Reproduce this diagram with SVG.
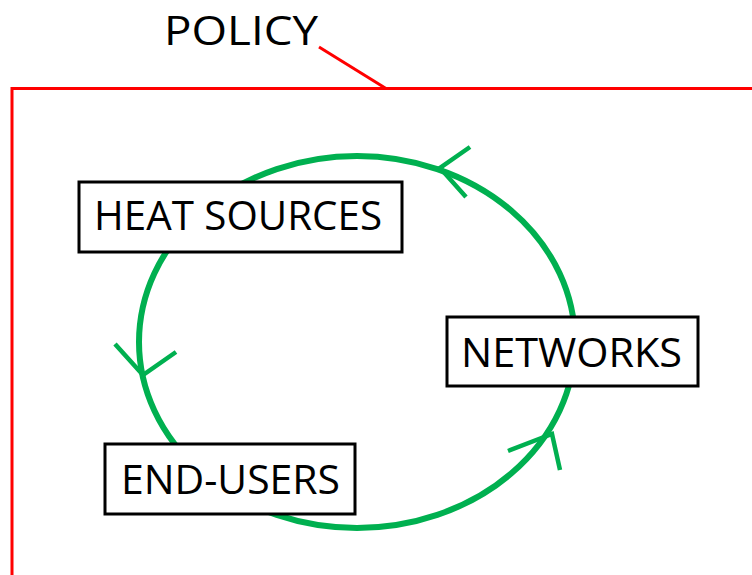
<svg xmlns="http://www.w3.org/2000/svg" width="752" height="575" viewBox="0 0 752 575">
  <style>
    .policy { fill: none; stroke: #ff0000; stroke-width: 3; }
    .cycle { fill: none; stroke: #00b050; stroke-width: 6; }
    .head { fill: none; stroke: #00b050; stroke-width: 4.5; stroke-linecap: butt; stroke-linejoin: miter; }
    .box { fill: #ffffff; stroke: #000000; stroke-width: 3; }
    .label { font-family: "Open Sans", "Liberation Sans", sans-serif; font-size: 40px; fill: #000000; }
  </style>
  <rect width="752" height="575" fill="#ffffff"/>

  <!-- policy boundary and its title -->
  <g id="policy">
    <polyline class="policy" points="752,88.5 12,88.5 12,575"/>
    <line class="policy" x1="319" y1="47" x2="386" y2="88.5"/>
    <text class="label" x="164" y="45" textLength="154" lengthAdjust="spacingAndGlyphs" font-size="37">POLICY</text>
  </g>

  <!-- the circular flow between the three parts -->
  <g id="connectors">
    <ellipse class="cycle" cx="357" cy="342" rx="218" ry="186"/>
    <polyline class="head" points="470,147 440,168 466,197"/>
    <polyline class="head" points="115,344 143,375 176,352"/>
    <polyline class="head" points="508,451 552,434 560,470"/>
  </g>

  <g id="heat-sources">
    <rect class="box" x="79" y="182" width="323" height="70"/>
    <text class="label" x="94" y="230" textLength="288" lengthAdjust="spacingAndGlyphs">HEAT SOURCES</text>
  </g>

  <g id="networks">
    <rect class="box" x="447" y="317" width="251" height="69"/>
    <text class="label" x="461" y="367" textLength="221" lengthAdjust="spacingAndGlyphs">NETWORKS</text>
  </g>

  <g id="end-users">
    <rect class="box" x="105" y="444" width="250" height="70"/>
    <text class="label" x="121" y="494" textLength="219" lengthAdjust="spacingAndGlyphs">END-USERS</text>
  </g>
</svg>
